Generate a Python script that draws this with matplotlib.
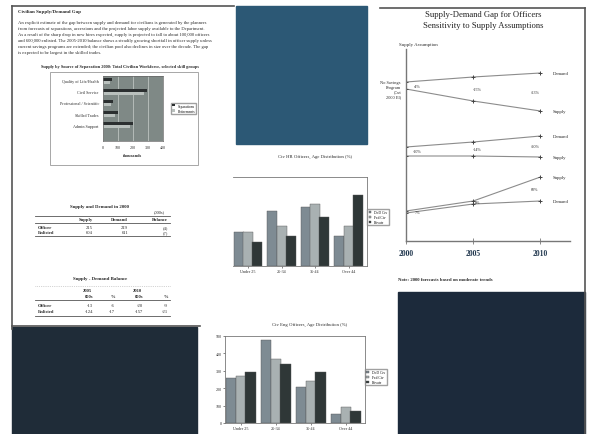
import numpy as np
import matplotlib
matplotlib.use("Agg")
import matplotlib.pyplot as plt
from matplotlib.patches import Rectangle

plt.rcParams['font.family'] = ['Liberation Serif', 'DejaVu Serif']

W, H = 593, 435

# ---- data ----
intro_title = "Civilian Supply/Demand Gap"
intro_lines = [
    "An explicit estimate of the gap between supply and demand for civilians is generated by the planners",
    "from forecasts of separations, accessions and the projected labor supply available to the Department.",
    "As a result of the sharp drop in new hires expected, supply is projected to fall to about 100,000 officers",
    "and 600,000 enlisted. The 2005-2010 balance shows a steadily growing shortfall in officer supply unless",
    "current savings programs are extended; the civilian pool also declines in size over the decade. The gap",
    "is expected to be largest in the skilled trades.",
]

inset_title = "Supply by Source of Separation 2000: Total Civilian Workforce, selected skill groups"
inset_cats = ["Quality of Life/Health", "Civil Service", "Professional / Scientific",
              "Skilled Trades", "Admin Support"]
inset_sep = [60, 293, 67, 100, 200]
inset_ret = [45, 270, 50, 80, 180]
inset_names = ["Separations", "Retirements"]

age_groups = ["Under 25", "25-34", "35-44", "Over 44"]
series_names = ["DoD Civ", "Fed Civ", "Private"]
hr_title = "Civ HR Officers, Age Distribution (%)"
hr_pct = [[11.5, 18.5, 20.0, 10.0],
          [11.5, 13.5, 21.0, 13.5],
          [8.0, 10.0, 16.5, 24.0]]
eng_title = "Civ Eng Officers, Age Distribution (%)"
eng_cnt = [[259, 477, 207, 52],
           [270, 368, 241, 92],
           [293, 339, 293, 69]]

t1_title = "Supply and Demand in 2000"
t1_rows = ["Officer", "Enlisted"]
t1_supply = [215, 604]
t1_demand = [219, 611]

t2_title = "Supply - Demand Balance"
t2_rows = ["Officer", "Enlisted"]
t2_2005 = [-13, -124]
t2_2005_pct = [-6, -17]
t2_2010 = [-20, -157]
t2_2010_pct = [-9, -21]

gap_title = ["Supply-Demand Gap for Officers", "Sensitivity to Supply Assumptions"]
years = [2000, 2005, 2010]
base_demand = [159, 164, 168]
base_supply = [152, 140, 130]
mid_demand = [94, 99, 105]
mid_supply = [85, 85, 84]
high_demand = [28, 37, 40]
high_supply = [30, 40, 64]
note_text = "Note: 2000 forecasts based on moderate trends"

fig = plt.figure(figsize=(W / 100, H / 100), dpi=100)
fig.patch.set_facecolor("white")

# full-page layer in pixel units for text, rules and photo blocks
page = fig.add_axes([0, 0, 1, 1])
page.set_xlim(0, W)
page.set_ylim(H, 0)
page.axis("off")


def panel(x0, y0, x1, y1):
    return fig.add_axes([x0 / W, 1 - y1 / H, (x1 - x0) / W, (y1 - y0) / H])


txt = "#2a2a2a"
rule = "#555555"

# photo blocks
page.add_patch(Rectangle((236, 7), 131, 138, color="#2c5875"))
page.add_patch(Rectangle((12, 328), 185, 107, color="#1f2c38"))
page.add_patch(Rectangle((398, 293), 187, 142, color="#1c2a3b"))

# left column frame
page.plot([12, 12], [7, 330], color=rule, lw=1.2)
page.plot([12, 234], [7, 7], color=rule, lw=1.2)
page.plot([12, 200], [327, 327], color=rule, lw=1.2)
# right column frame
page.plot([380, 585], [9, 9], color=rule, lw=1.2)
page.plot([585, 585], [9, 435], color=rule, lw=1.2)

# intro text
page.text(18, 12, intro_title, fontsize=3.6, weight="bold", color=txt, va="center")
for i, line in enumerate(intro_lines):
    page.text(18, 23 + i * 6, line, fontsize=3.3, color=txt, va="center")

# inset horizontal bar chart
page.add_patch(Rectangle((50, 73), 148, 93, fill=False, ec="#999999", lw=0.6))
page.text(120, 67, inset_title, fontsize=3.2, weight="bold", color=txt,
          ha="center", va="center")
ax = panel(103, 77, 163, 142)
ypos = np.arange(len(inset_cats))
ax.barh(ypos - 0.15, inset_sep, height=0.3, color="#2b2f30", label=inset_names[0])
ax.barh(ypos + 0.15, inset_ret, height=0.3, color="#b9c0bd", label=inset_names[1])
ax.set_facecolor("#7f8986")
ax.set_xlim(0, 400)
ax.set_ylim(5.45, -0.45)
ax.set_xticks([0, 100, 200, 300, 400])
ax.xaxis.grid(True, color="#c9cfcc", lw=0.5)
ax.set_axisbelow(True)
ax.set_yticks(ypos)
ax.set_yticklabels(inset_cats)
ax.tick_params(labelsize=3, length=0, pad=3, colors=txt)
ax.set_xlabel("thousands", fontsize=3.2, weight="bold", labelpad=3, color=txt)
for s in ax.spines.values():
    s.set_color("#666666")
    s.set_linewidth(0.5)
ax.legend(loc="upper left", bbox_to_anchor=(1.1, 0.62), fontsize=2.6,
          handlelength=0.8, handleheight=0.6, borderpad=0.3, labelspacing=0.3,
          frameon=True, edgecolor="#888888", fancybox=False)

# table 1
page.text(100, 207, t1_title, fontsize=3.5, weight="bold", color=txt, ha="center", va="center")
page.text(165, 212.5, "(000s)", fontsize=3.2, color=txt, ha="right", va="center")
page.plot([35, 170], [216.5, 216.5], color=rule, lw=0.6)
for x, h in zip([93, 128, 168], ["Supply", "Demand", "Balance"]):
    page.text(x, 220, h, fontsize=3.3, weight="bold", color=txt, ha="right", va="center")
page.plot([35, 170], [223.5, 223.5], color=rule, lw=0.6)
for i, r in enumerate(t1_rows):
    y = 228 + i * 5.5
    bal = t1_supply[i] - t1_demand[i]
    page.text(38, y, r, fontsize=3.3, weight="bold", color=txt, va="center")
    page.text(93, y, str(t1_supply[i]), fontsize=3.3, color=txt, ha="right", va="center")
    page.text(128, y, str(t1_demand[i]), fontsize=3.3, color=txt, ha="right", va="center")
    page.text(168, y, f"({abs(bal)})", fontsize=3.3, color=txt, ha="right", va="center")
page.plot([35, 170], [237, 237], color=rule, lw=0.6)

# table 2
page.text(100, 279, t2_title, fontsize=3.5, weight="bold", color=txt, ha="center", va="center")
page.plot([35, 170], [286.5, 286.5], color="#aaaaaa", lw=0.5, ls=":")
page.text(87, 291.5, "2005", fontsize=3.3, weight="bold", color=txt, ha="center", va="center")
page.text(137, 291.5, "2010", fontsize=3.3, weight="bold", color=txt, ha="center", va="center")
for x, h in zip([93, 115, 143, 168], ["000s", "%", "000s", "%"]):
    page.text(x, 297, h, fontsize=3.3, weight="bold", color=txt, ha="right", va="center")
page.plot([35, 170], [300.5, 300.5], color=rule, lw=0.6)
for i, r in enumerate(t2_rows):
    y = 306.5 + i * 6
    page.text(38, y, r, fontsize=3.3, weight="bold", color=txt, va="center")
    for x, v in zip([93, 115, 143, 168],
                    [t2_2005[i], t2_2005_pct[i], t2_2010[i], t2_2010_pct[i]]):
        page.text(x, y, str(v), fontsize=3.3, color=txt, ha="right", va="center")
page.plot([35, 170], [317, 317], color=rule, lw=0.6)

# middle bar charts
bar_colors = ["#7e8b93", "#a9b1b2", "#2f3737"]


def age_chart(box, title, title_y, values, ylim, yticks, leg_y):
    ax = panel(*box)
    x = np.arange(len(age_groups))
    for k, vals in enumerate(values):
        ax.bar(x + (k - 1) * 0.28, vals, width=0.3, color=bar_colors[k],
               edgecolor="#555555", lw=0.3, label=series_names[k])
    ax.set_xlim(-0.45, 3.55)
    ax.set_ylim(0, ylim)
    ax.set_xticks(x)
    ax.set_xticklabels(age_groups)
    ax.set_yticks(yticks)
    ax.tick_params(labelsize=3, length=1.5, width=0.4, pad=1, colors=txt)
    for s in ax.spines.values():
        s.set_color("#777777")
        s.set_linewidth(0.6)
    ax.legend(loc="upper left", bbox_to_anchor=(0.99, leg_y), fontsize=2.6,
              handlelength=0.8, handleheight=0.6, borderpad=0.3, labelspacing=0.3,
              frameon=True, edgecolor="#888888", fancybox=False)
    page.text((box[0] + box[2]) / 2 + 15, title_y, title, fontsize=3.4, color=txt,
              ha="center", va="center")
    return ax


ax1 = age_chart((233, 178, 367, 267), hr_title, 157, hr_pct, 30, [], 0.66)
ax1.spines["left"].set_visible(False)
ax2 = age_chart((225, 337, 365, 424), eng_title, 325, eng_cnt, 500,
                [0, 100, 200, 300, 400, 500], 0.64)

# right column: sensitivity line chart
page.text(483, 15, gap_title[0], fontsize=6.2, color="#222222", ha="center", va="center")
page.text(483, 26, gap_title[1], fontsize=6.2, color="#222222", ha="center", va="center")
page.text(418, 45, "Supply Assumption", fontsize=3.5, color=txt, ha="center", va="center")

ax = panel(406, 50, 570, 242)
ax.set_facecolor("none")
ax.set_xlim(2000, 2012.2)
ax.set_ylim(0, 192)
for s in ["top", "right"]:
    ax.spines[s].set_visible(False)
for s in ["left", "bottom"]:
    ax.spines[s].set_color("#777777")
    ax.spines[s].set_linewidth(1.0)
ax.set_yticks([])
ax.set_xticks(years)
ax.set_xticklabels([str(y) for y in years], fontsize=5.5, weight="bold", color="#22384f")
ax.tick_params(axis="x", direction="inout", length=4, width=0.6, color="#777777", pad=4)

pairs = [(base_demand, base_supply), (mid_demand, mid_supply), (high_demand, high_supply)]
offsets = [8, 3, -4]
for dem, sup in pairs:
    for vals, name in [(dem, "Demand"), (sup, "Supply")]:
        ax.plot(years, vals, color="#8c8c8c", lw=0.8, marker="+", ms=3.5,
                mec="#444444", mew=0.7)
        ax.annotate(name, (years[-1], vals[-1]), xytext=(9, 0), textcoords="offset points",
                    fontsize=3.4, color=txt, va="center")
    for j, yr in enumerate(years):
        gap = (sup[j] - dem[j]) / dem[j] * 100
        ax.annotate(f"{gap:.0f}%", (yr, (sup[j] + dem[j]) / 2), xytext=(offsets[j], 0),
                    textcoords="offset points", fontsize=3, color=txt,
                    ha="center", va="center")

page.text(401, 90, "No Savings\nProgram\n(Cut\n2000 EI)", fontsize=3.2, color=txt,
          ha="right", va="center", linespacing=1.3)
page.text(398, 280, note_text, fontsize=3.4, weight="bold", color=txt, va="center")

fig.savefig("out.png", dpi=100)
